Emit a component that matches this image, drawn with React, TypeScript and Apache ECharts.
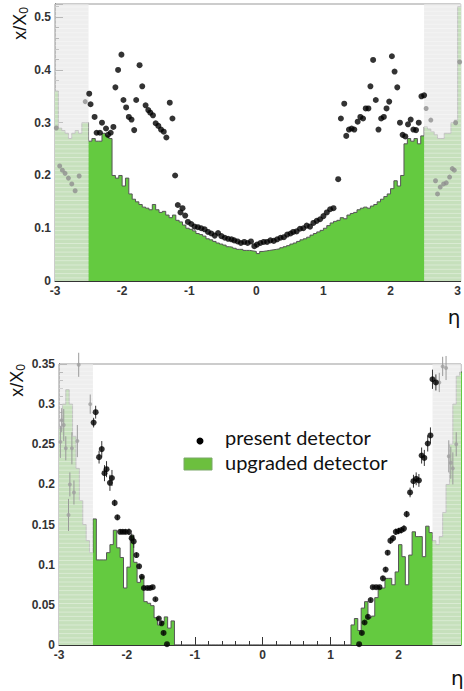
import React, { useEffect, useRef } from 'react';
import * as echarts from 'echarts';

// histogram binning (eta), bins of 0.05 starting at -3
const BIN_START = -3;
const BIN_WIDTH = 0.05;

// upgraded detector, x/X0 per eta bin (top panel)
const topUpgraded = [
  0.36, 0.29, 0.285, 0.28, 0.27, 0.28, 0.285, 0.28, 0.3, 0.3,
  0.265, 0.27, 0.265, 0.265, 0.28, 0.275, 0.27, 0.2, 0.195, 0.2,
  0.18, 0.195, 0.165, 0.155, 0.15, 0.145, 0.14, 0.138, 0.135, 0.145,
  0.135, 0.13, 0.132, 0.125, 0.12, 0.125, 0.115, 0.112, 0.106, 0.1,
  0.098, 0.095, 0.09, 0.088, 0.085, 0.08, 0.078, 0.075, 0.072, 0.07,
  0.068, 0.065, 0.064, 0.062, 0.06, 0.06, 0.058, 0.058, 0.057, 0.056,
  0.052, 0.056, 0.057, 0.058, 0.059, 0.06, 0.061, 0.063, 0.065, 0.067,
  0.07, 0.072, 0.075, 0.078, 0.08, 0.083, 0.087, 0.09, 0.093, 0.096,
  0.1, 0.105, 0.11, 0.113, 0.115, 0.12, 0.118, 0.125, 0.128, 0.13,
  0.135, 0.138, 0.14, 0.138, 0.142, 0.145, 0.15, 0.155, 0.16, 0.165,
  0.175, 0.19, 0.18, 0.2, 0.26, 0.27, 0.265, 0.27, 0.26, 0.275,
  0.292, 0.288, 0.283, 0.277, 0.27, 0.27, 0.28, 0.28, 0.3, 0.305,
  0.52,
];

// upgraded detector, x/X0 per eta bin (bottom panel)
const bottomUpgraded = [
  0.27, 0.3, 0.318, 0.3, 0.26, 0.22, 0.18, 0.15, 0.13, 0.115,
  0.157, 0.106, 0.106, 0.106, 0.115, 0.125, 0.143, 0.121, 0.109, 0.071,
  0.097, 0.137, 0.103, 0.078, 0.085, 0.054, 0.052, 0.049, 0.034, 0.025,
  0.029, 0.035, 0.021, 0.03, 0, 0, 0, 0, 0, 0,
  0, 0, 0, 0, 0, 0, 0, 0, 0, 0,
  0, 0, 0, 0, 0, 0, 0, 0, 0, 0,
  0, 0, 0, 0, 0, 0, 0, 0, 0, 0,
  0, 0, 0, 0, 0, 0, 0, 0, 0, 0,
  0, 0, 0, 0, 0, 0, 0.025, 0.033, 0.018, 0.046,
  0.054, 0.034, 0.036, 0.059, 0.071, 0.071, 0.083, 0.083, 0.075, 0.091,
  0.125, 0.11, 0.075, 0.112, 0.141, 0.135, 0.135, 0.11, 0.148, 0.14,
  0.13, 0.125, 0.135, 0.165, 0.2, 0.25, 0.3, 0.335, 0.34, 0.34,
];

// present detector points [eta, x/X0] (top panel)
const topPresent = [
  [-2.49, 0.355], [-2.47, 0.335], [-2.41, 0.311], [-2.38, 0.281], [-2.33, 0.281],
  [-2.3, 0.3], [-2.24, 0.289], [-2.21, 0.277], [-2.17, 0.281], [-2.13, 0.292],
  [-2.1, 0.367], [-2.06, 0.4], [-2.01, 0.429], [-1.98, 0.343], [-1.94, 0.329],
  [-1.9, 0.311], [-1.86, 0.306], [-1.82, 0.286], [-1.79, 0.343], [-1.74, 0.409],
  [-1.7, 0.369], [-1.65, 0.333], [-1.61, 0.324], [-1.58, 0.319], [-1.54, 0.314],
  [-1.5, 0.299], [-1.46, 0.294], [-1.42, 0.287], [-1.38, 0.283], [-1.34, 0.272],
  [-1.29, 0.338], [-1.25, 0.308], [-1.21, 0.2], [-1.17, 0.144], [-1.13, 0.13],
  [-1.1, 0.138], [-1.06, 0.124], [-1.02, 0.112], [-0.97, 0.108], [-0.92, 0.103],
  [-0.87, 0.102], [-0.82, 0.1], [-0.77, 0.098], [-0.72, 0.093], [-0.67, 0.09],
  [-0.62, 0.086], [-0.57, 0.091], [-0.52, 0.085], [-0.47, 0.082], [-0.42, 0.08],
  [-0.37, 0.079], [-0.33, 0.077], [-0.28, 0.075], [-0.23, 0.072], [-0.18, 0.074],
  [-0.13, 0.072], [-0.08, 0.075], [-0.03, 0.066], [0.01, 0.069], [0.06, 0.072],
  [0.11, 0.074], [0.16, 0.074], [0.21, 0.077], [0.26, 0.076], [0.31, 0.079],
  [0.36, 0.082], [0.41, 0.083], [0.46, 0.088], [0.51, 0.09], [0.55, 0.093],
  [0.6, 0.094], [0.65, 0.099], [0.7, 0.1], [0.75, 0.105], [0.8, 0.103],
  [0.85, 0.11], [0.9, 0.114], [0.95, 0.117], [1.0, 0.123], [1.05, 0.13],
  [1.1, 0.136], [1.15, 0.138], [1.22, 0.193], [1.26, 0.308], [1.31, 0.336],
  [1.34, 0.275], [1.38, 0.287], [1.42, 0.289], [1.46, 0.287], [1.51, 0.302],
  [1.55, 0.311], [1.59, 0.308], [1.63, 0.327], [1.67, 0.327], [1.7, 0.369],
  [1.74, 0.419], [1.78, 0.343], [1.82, 0.287], [1.86, 0.308], [1.9, 0.311],
  [1.94, 0.327], [1.98, 0.34], [2.02, 0.426], [2.06, 0.397], [2.1, 0.367],
  [2.14, 0.3], [2.18, 0.277], [2.22, 0.274], [2.26, 0.297], [2.3, 0.306],
  [2.34, 0.287], [2.38, 0.286], [2.42, 0.3], [2.46, 0.35], [2.5, 0.352],
];

// present detector points outside |eta| < 2.5 (top panel)
const topPresentOuter = [
  [-2.98, 0.29], [-2.93, 0.218], [-2.89, 0.21], [-2.85, 0.204], [-2.8, 0.195],
  [-2.75, 0.184], [-2.7, 0.171], [-2.64, 0.199], [-2.55, 0.34],
  [2.53, 0.327], [2.6, 0.305], [2.67, 0.19], [2.7, 0.165], [2.74, 0.178],
  [2.79, 0.184], [2.83, 0.186], [2.88, 0.197], [2.92, 0.213], [2.95, 0.21],
  [2.97, 0.3], [3.03, 0.415],
];

// present detector points [eta, x/X0, error] (bottom panel)
const bottomPresent = [
  [-2.49, 0.277, 0.006], [-2.46, 0.29, 0.008], [-2.41, 0.234, 0.008], [-2.37, 0.244, 0.01],
  [-2.33, 0.214, 0.01], [-2.3, 0.219, 0.01], [-2.25, 0.202, 0.01], [-2.22, 0.208, 0.01],
  [-2.18, 0.177, 0.004], [-2.14, 0.159, 0.003], [-2.1, 0.141, 0.003], [-2.06, 0.141, 0.003],
  [-2.02, 0.141, 0.003], [-1.97, 0.141, 0.004], [-1.93, 0.133, 0.006], [-1.9, 0.129, 0.008],
  [-1.86, 0.112, 0.003], [-1.82, 0.098, 0.003], [-1.78, 0.085, 0.003], [-1.75, 0.071, 0.002],
  [-1.7, 0.071, 0.002], [-1.66, 0.071, 0.002], [-1.62, 0.072, 0.002], [-1.58, 0.057, 0.002],
  [-1.53, 0.033, 0.002], [-1.49, 0.027, 0.002], [-1.46, 0.015, 0.002], [-1.41, 0.001, 0.001],
  [1.42, 0.001, 0.001], [1.46, 0.015, 0.002], [1.5, 0.028, 0.002], [1.55, 0.035, 0.002],
  [1.59, 0.056, 0.002], [1.62, 0.072, 0.002], [1.67, 0.072, 0.002], [1.72, 0.072, 0.002],
  [1.77, 0.083, 0.003], [1.81, 0.094, 0.003], [1.84, 0.115, 0.003], [1.88, 0.13, 0.004],
  [1.92, 0.133, 0.004], [1.96, 0.141, 0.004], [2.0, 0.142, 0.004], [2.04, 0.143, 0.004],
  [2.08, 0.145, 0.004], [2.12, 0.163, 0.004], [2.17, 0.19, 0.006], [2.22, 0.204, 0.008],
  [2.26, 0.207, 0.008], [2.3, 0.205, 0.008], [2.34, 0.236, 0.01], [2.38, 0.233, 0.01],
  [2.43, 0.251, 0.01], [2.47, 0.261, 0.01], [2.5, 0.331, 0.012], [2.55, 0.327, 0.01],
];

// present detector points outside |eta| < 2.5 (bottom panel)
const bottomPresentOuter = [
  [-2.98, 0.253, 0.02], [-2.96, 0.28, 0.015], [-2.93, 0.274, 0.02], [-2.9, 0.245, 0.015],
  [-2.86, 0.162, 0.02], [-2.84, 0.2, 0.015], [-2.81, 0.245, 0.02], [-2.78, 0.19, 0.015],
  [-2.73, 0.254, 0.02], [-2.71, 0.349, 0.015], [-2.54, 0.3, 0.012],
  [2.6, 0.327, 0.012], [2.65, 0.347, 0.012], [2.7, 0.345, 0.015], [2.74, 0.235, 0.02],
  [2.77, 0.227, 0.02], [2.8, 0.22, 0.02], [2.85, 0.25, 0.015],
];

// regions outside the tracker acceptance (|eta| > 2.5)
const outerRegions = [
  [-3, -2.5],
  [2.5, 3.1],
];

const TOP_X = { min: -3, max: 3.045 };
const TOP_Y = { min: 0, max: 0.525, interval: 0.1 };
const BOT_X = { min: -3, max: 2.92 };
const BOT_Y = { min: 0, max: 0.35, interval: 0.05 };

const GREEN = '#64ca40';
const TICK_FONT = 'Liberation Sans';

function histData(values: number[]) {
  const d = values.map((v, i) => [BIN_START + i * BIN_WIDTH, v]);
  d.push([BIN_START + values.length * BIN_WIDTH, values[values.length - 1]]);
  return d;
}

function fmtOn(interval: number) {
  return (v: number) => {
    const k = v / interval;
    if (Math.abs(k - Math.round(k)) > 1e-6) return '';
    if (Math.abs(v) < 1e-9) return '0';
    return String(Number(v.toFixed(2)));
  };
}

function xAxis(idx: number, ext: { min: number; max: number }) {
  return {
    type: 'value',
    gridIndex: idx,
    min: ext.min,
    max: ext.max,
    interval: 1,
    axisLine: { show: true, onZero: false, lineStyle: { color: '#333', width: 1 } },
    axisTick: { show: true, inside: true, length: 8, lineStyle: { color: '#333' } },
    minorTick: { show: true, splitNumber: 5, length: 4, lineStyle: { color: '#333' } },
    splitLine: { show: false },
    axisLabel: {
      formatter: fmtOn(1),
      fontFamily: TICK_FONT,
      fontWeight: 'bold',
      fontSize: 12,
      color: '#333',
      margin: 4,
      showMaxLabel: true,
      showMinLabel: true,
    },
  };
}

function yAxis(idx: number, ext: { min: number; max: number; interval: number }) {
  return {
    type: 'value',
    gridIndex: idx,
    min: ext.min,
    max: ext.max,
    interval: ext.interval,
    axisLine: { show: true, onZero: false, lineStyle: { color: '#333', width: 1 } },
    axisTick: { show: true, inside: true, length: 8, lineStyle: { color: '#333' } },
    minorTick: { show: true, splitNumber: 5, length: 4, lineStyle: { color: '#333' } },
    splitLine: { show: false },
    axisLabel: {
      formatter: fmtOn(ext.interval),
      fontFamily: TICK_FONT,
      fontWeight: 'bold',
      fontSize: 12,
      color: '#333',
      margin: 4,
    },
  };
}

function overlaySeries(idx: number, yMax: number) {
  return {
    type: 'custom',
    xAxisIndex: idx,
    yAxisIndex: idx,
    z: 3,
    silent: true,
    clip: true,
    data: outerRegions,
    renderItem: (params: any, api: any) => {
      const p0 = api.coord([api.value(0), yMax]);
      const p1 = api.coord([api.value(1), 0]);
      const w = p1[0] - p0[0];
      const h = p1[1] - p0[1];
      const children: any[] = [
        {
          type: 'rect',
          shape: { x: p0[0], y: p0[1], width: w, height: h },
          style: { fill: 'rgba(232,232,232,0.74)' },
        },
      ];
      for (let y = p0[1] + 3; y < p1[1]; y += 4.3) {
        children.push({
          type: 'line',
          shape: { x1: p0[0], y1: y, x2: p0[0] + w, y2: y },
          style: { stroke: 'rgba(255,255,255,0.35)', lineWidth: 1 },
        });
      }
      return { type: 'group', children };
    },
  };
}

function errorSeries(idx: number, data: number[][], color: string, z: number) {
  return {
    type: 'custom',
    xAxisIndex: idx,
    yAxisIndex: idx,
    z,
    silent: true,
    data,
    renderItem: (params: any, api: any) => {
      const x = api.value(0);
      const y = api.value(1);
      const e = api.value(2);
      const a = api.coord([x, y - e]);
      const b = api.coord([x, y + e]);
      return {
        type: 'line',
        shape: { x1: a[0], y1: a[1], x2: b[0], y2: b[1] },
        style: { stroke: color, lineWidth: 1 },
      };
    },
  };
}

export default function App() {
  const ref = useRef<HTMLDivElement>(null);

  useEffect(() => {
    if (!ref.current) return;
    const chart = echarts.init(ref.current, undefined, { renderer: 'svg' });

    const option: any = {
      animation: false,
      backgroundColor: '#fff',
      grid: [
        {
          left: 55,
          top: 4,
          width: 407,
          height: 277,
          show: true,
          borderColor: '#999',
          borderWidth: 1,
          backgroundColor: 'transparent',
        },
        {
          left: 59,
          top: 364,
          width: 405,
          height: 281,
          show: true,
          borderColor: '#999',
          borderWidth: 1,
          backgroundColor: 'transparent',
        },
      ],
      xAxis: [xAxis(0, TOP_X), xAxis(1, BOT_X)],
      yAxis: [yAxis(0, TOP_Y), yAxis(1, BOT_Y)],
      series: [
        {
          name: 'upgraded detector',
          type: 'line',
          xAxisIndex: 0,
          yAxisIndex: 0,
          step: 'end',
          symbol: 'none',
          z: 2,
          lineStyle: { color: '#555', width: 1 },
          areaStyle: { color: GREEN, opacity: 1 },
          data: histData(topUpgraded),
        },
        overlaySeries(0, TOP_Y.max),
        {
          type: 'scatter',
          xAxisIndex: 0,
          yAxisIndex: 0,
          z: 4,
          symbolSize: 5,
          itemStyle: { color: '#8e8e8e' },
          data: topPresentOuter,
        },
        {
          name: 'present detector',
          type: 'scatter',
          xAxisIndex: 0,
          yAxisIndex: 0,
          z: 5,
          symbolSize: 6,
          itemStyle: { color: '#000' },
          data: topPresent,
        },
        {
          name: 'upgraded detector',
          type: 'line',
          xAxisIndex: 1,
          yAxisIndex: 1,
          step: 'end',
          symbol: 'none',
          z: 2,
          lineStyle: { color: '#555', width: 1 },
          areaStyle: { color: GREEN, opacity: 1 },
          data: histData(bottomUpgraded),
        },
        overlaySeries(1, BOT_Y.max),
        errorSeries(1, bottomPresentOuter, '#9a9a9a', 4),
        {
          type: 'scatter',
          xAxisIndex: 1,
          yAxisIndex: 1,
          z: 4,
          symbolSize: 4,
          itemStyle: { color: '#a0a0a0' },
          data: bottomPresentOuter.map((p) => [p[0], p[1]]),
        },
        errorSeries(1, bottomPresent, '#333', 5),
        {
          name: 'present detector',
          type: 'scatter',
          xAxisIndex: 1,
          yAxisIndex: 1,
          z: 6,
          symbolSize: 6,
          itemStyle: { color: '#000' },
          data: bottomPresent.map((p) => [p[0], p[1]]),
        },
      ],
      graphic: [
        {
          type: 'text',
          x: 20,
          y: 7,
          rotation: Math.PI / 2,
          style: {
            text: 'x/X{s|0}',
            fontFamily: 'Liberation Sans',
            fontSize: 18,
            fill: '#111',
            align: 'right',
            verticalAlign: 'middle',
            rich: { s: { fontSize: 12, fontFamily: 'Liberation Sans', fill: '#111', padding: [8, 0, 0, 0] } },
          },
        },
        {
          type: 'text',
          x: 17,
          y: 364,
          rotation: Math.PI / 2,
          style: {
            text: 'x/X{s|0}',
            fontFamily: 'Liberation Sans',
            fontSize: 18,
            fill: '#111',
            align: 'right',
            verticalAlign: 'middle',
            rich: { s: { fontSize: 12, fontFamily: 'Liberation Sans', fill: '#111', padding: [8, 0, 0, 0] } },
          },
        },
        {
          type: 'text',
          x: 454,
          y: 317,
          style: { text: 'η', fontFamily: 'DejaVu Sans', fontSize: 20, fill: '#111', align: 'center', verticalAlign: 'middle' },
        },
        {
          type: 'text',
          x: 451,
          y: 678,
          style: { text: 'η', fontFamily: 'DejaVu Sans', fontSize: 20, fill: '#111', align: 'left', verticalAlign: 'middle' },
        },
        {
          type: 'circle',
          shape: { cx: 200, cy: 441, r: 3.5 },
          style: { fill: '#000' },
        },
        {
          type: 'text',
          x: 225,
          y: 437,
          style: { text: 'present detector', fontFamily: 'Lato', fontSize: 20, fill: '#111', align: 'left', verticalAlign: 'middle' },
        },
        {
          type: 'rect',
          shape: { x: 184, y: 458, width: 28, height: 12 },
          style: { fill: '#6cbf3e', stroke: '#7aa868', lineWidth: 1 },
        },
        {
          type: 'text',
          x: 225,
          y: 462,
          style: { text: 'upgraded detector', fontFamily: 'Lato', fontSize: 20, fill: '#111', align: 'left', verticalAlign: 'middle' },
        },
      ],
    };

    chart.setOption(option);
    return () => chart.dispose();
  }, []);

  return (
    <div style={{ position: 'fixed', left: 0, top: 0, width: 464, height: 691, overflow: 'hidden', background: '#fff' }}>
      <div ref={ref} style={{ width: 464, height: 691 }} />
    </div>
  );
}
